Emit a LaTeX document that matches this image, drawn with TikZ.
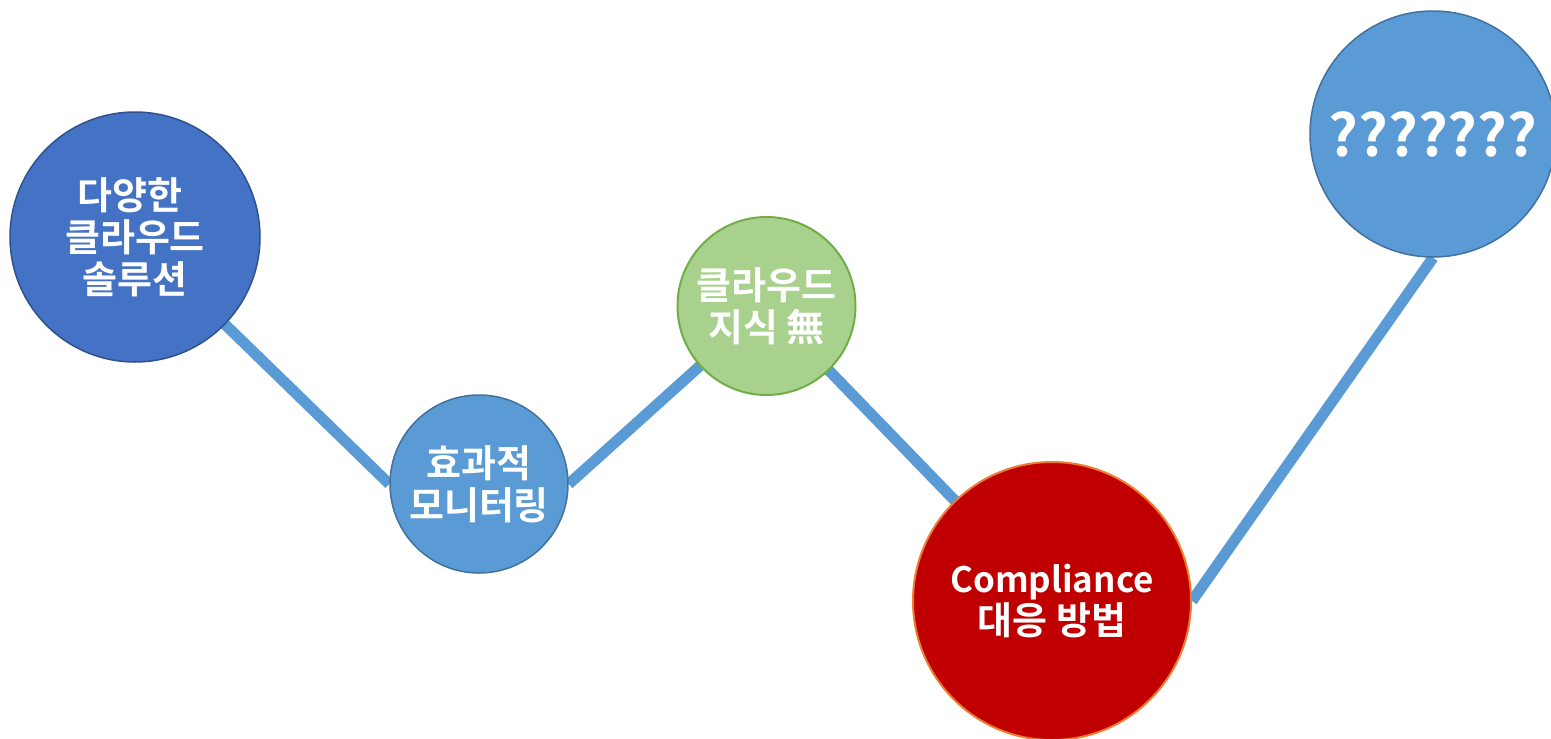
\documentclass[tikz,border=0pt]{standalone}
\usepackage{fontspec}
\setmainfont{Noto Sans CJK KR}[BoldFont={Noto Sans CJK KR Bold}]
\usetikzlibrary{backgrounds}
\definecolor{dblue}{HTML}{4472C4}
\definecolor{dblueb}{HTML}{2F528F}
\definecolor{mblue}{HTML}{5B9BD5}
\definecolor{mblueb}{HTML}{41719C}
\definecolor{lgreen}{HTML}{A9D18E}
\definecolor{lgreenb}{HTML}{70AD47}
\definecolor{dred}{HTML}{C00000}
\definecolor{orangeb}{HTML}{ED7D31}
\tikzset{
  bubble/.style={circle, inner sep=0pt, text=white, align=center,
    font=\fontsize{38}{42}\selectfont\bfseries, line width=1.5pt},
  link/.style={draw=mblue, line width=11pt, line cap=butt}
}
\begin{document}
\begin{tikzpicture}[x=1pt,y=-1pt]
\useasboundingbox (0,0) rectangle (1551,739);
\node[bubble, fill=dblue, draw=dblueb, minimum size=250pt] (n1) at (135,237) {다양한\hspace*{10pt}\\클라우드\\솔루션};
\node[bubble, fill=mblue, draw=mblueb, minimum size=178pt] (n2) at (479,484) {효과적\\모니터링};
\node[bubble, fill=lgreen, draw=lgreenb, line width=2pt, minimum size=178pt] (n3) at (766.5,306) {클라우드\\지식 無};
\node[bubble, fill=dred, draw=orangeb, line width=2pt, minimum size=278pt] (n4) at (1052,601) {{\fontsize{35}{42}\selectfont Compliance}\\대응 방법};
\node[bubble, fill=mblue, draw=mblueb, minimum size=246pt, font=\fontsize{58}{60}\selectfont\bfseries] (n5) at (1433,134) {???????};
\begin{scope}[on background layer]
\draw[link] (n1.center) -- (n2.west);
\draw[link] (n2.east) -- (n3.center);
\draw[link] (n3.center) -- (n4.center);
\draw[link] (n4.east) -- (n5.south);
\end{scope}
\end{tikzpicture}
\end{document}
